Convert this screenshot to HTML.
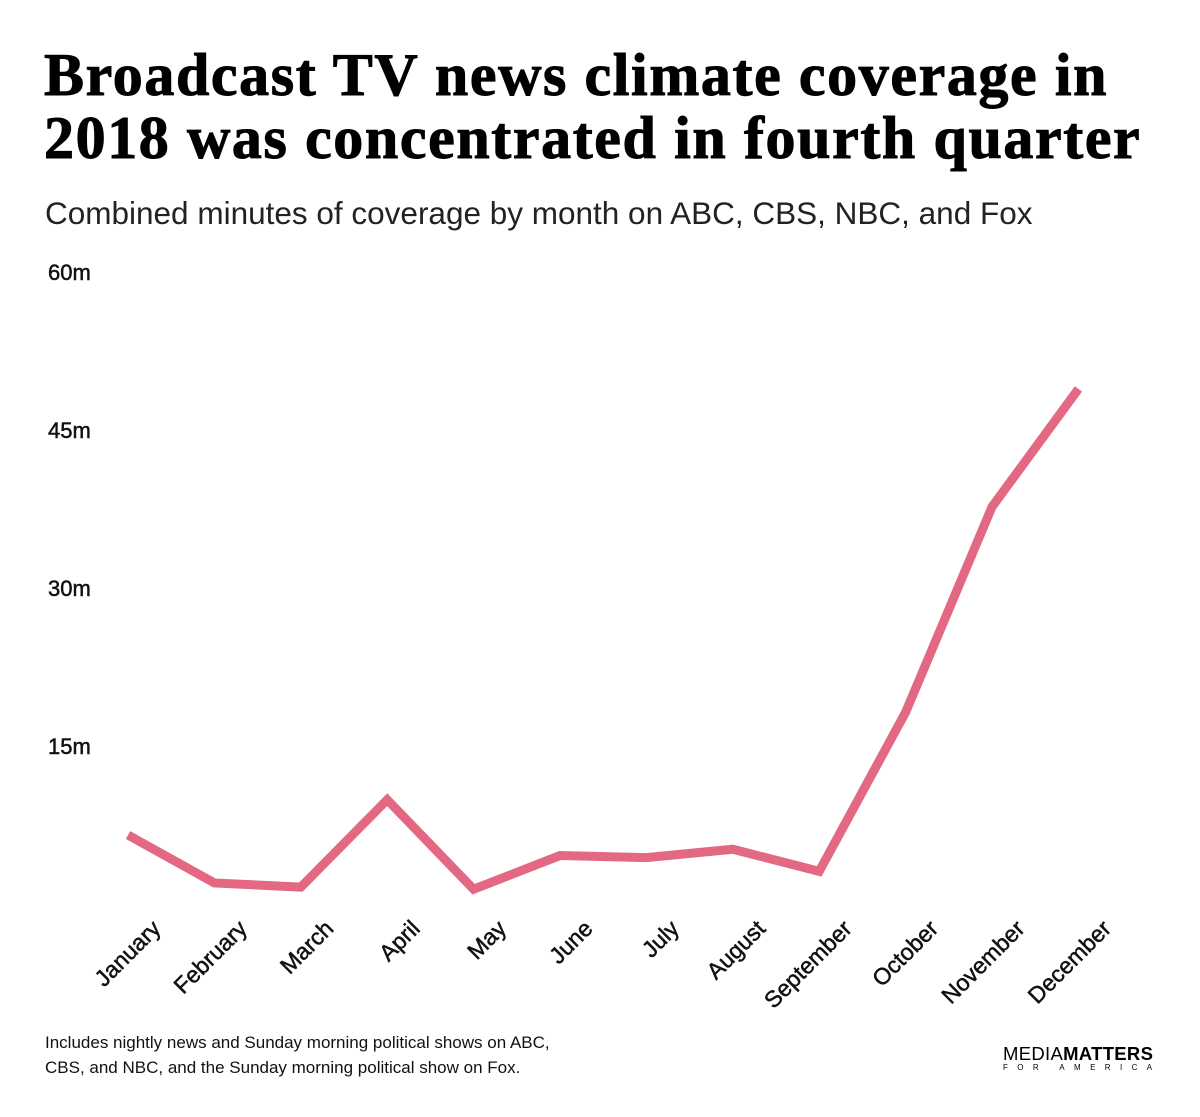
<!DOCTYPE html>
<html><head><meta charset="utf-8"><style>
body{margin:0;background:#fff;width:1200px;height:1117px;overflow:hidden;font-family:"Liberation Sans",sans-serif;}
.t{position:absolute;left:44px;font-family:"Liberation Serif",serif;font-weight:900;font-size:60px;line-height:63px;color:#000;letter-spacing:1.6px;white-space:nowrap;-webkit-text-stroke:1px #000}
</style></head><body>
<div class="t" style="top:44px">Broadcast TV news climate coverage in<br>2018 was concentrated in fourth quarter</div>
<div style="position:absolute;left:45px;top:195px;font-size:31.5px;color:#222;white-space:nowrap">Combined minutes of coverage by month on ABC, CBS, NBC, and Fox</div>
<svg id="chart" width="1200" height="1117" style="position:absolute;left:0;top:0"></svg>
<div style="position:absolute;left:45px;top:1030px;font-size:17px;line-height:25px;color:#111">Includes nightly news and Sunday morning political shows on ABC,<br>CBS, and NBC, and the Sunday morning political show on Fox.</div>
<div style="position:absolute;left:1003px;top:1045px;font-size:18.5px;line-height:18px;color:#000;letter-spacing:0.3px">MEDIA<b>MATTERS</b><div style="font-size:8px;line-height:10px;letter-spacing:9.4px">FOR AMERICA</div></div>
<script>
const months=["January","February","March","April","May","June","July","August","September","October","November","December"];
const minutes=[6.55,2.0,1.6,9.9,1.4,4.6,4.4,5.2,3.1,18.2,37.7,48.9];
const yTicks=[15,30,45,60];
const yTickLabels=["15m","30m","45m","60m"];
const svg=document.getElementById('chart');
const NS="http://www.w3.org/2000/svg";
const x=i=>128+i*86.4;
const y=v=>904-v*158/15;
yTicks.forEach((t,i)=>{
  const tx=document.createElementNS(NS,'text');
  
  
  tx.setAttribute('x',48);tx.setAttribute('y',y(t)+8);
  tx.setAttribute('font-size','22');tx.setAttribute('fill','#111');
  tx.setAttribute('stroke','#111');tx.setAttribute('stroke-width','0.5');
  tx.textContent=yTickLabels[i];svg.appendChild(tx);
});
const p=document.createElementNS(NS,'polyline');


p.setAttribute('points',minutes.map((v,i)=>x(i)+','+y(v)).join(' '));
p.setAttribute('fill','none');p.setAttribute('stroke','#e36882');p.setAttribute('stroke-width','9');
p.setAttribute('stroke-linejoin','miter');
svg.appendChild(p);
months.forEach((m,i)=>{
  const tx=document.createElementNS(NS,'text');
  
  
  const cx=x(i)+34,cy=930;
  tx.setAttribute('x',cx);tx.setAttribute('y',cy);
  tx.setAttribute('text-anchor','end');
  tx.setAttribute('font-size','23');tx.setAttribute('fill','#111');
  tx.setAttribute('stroke','#111');tx.setAttribute('stroke-width','0.5');
  tx.setAttribute('transform','rotate(-45 '+cx+' '+cy+')');
  tx.textContent=m;svg.appendChild(tx);
});
</script>
</body></html>
